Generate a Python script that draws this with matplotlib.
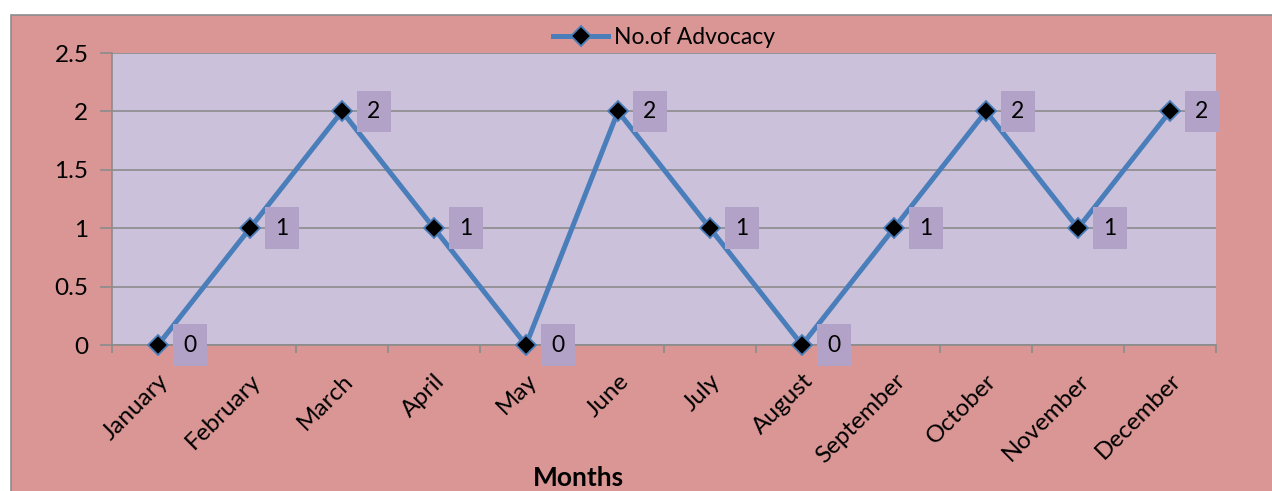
import matplotlib
matplotlib.use("Agg")
import matplotlib.pyplot as plt
from matplotlib.patches import Rectangle
from matplotlib.transforms import ScaledTranslation

# data
months = ["January", "February", "March", "April", "May", "June",
          "July", "August", "September", "October", "November", "December"]
advocacy = [0, 1, 2, 1, 0, 2, 1, 0, 1, 2, 1, 2]
y_ticks = [0, 0.5, 1, 1.5, 2, 2.5]
y_tick_labels = ["0", "0.5", "1", "1.5", "2", "2.5"]

PINK = "#D99694"
PLOT_BG = "#CCC1DA"
LABEL_BG = "#B3A2C7"
LINE = "#4A7EBB"
GRID = "#8C8C8C"
FS = 17.5

plt.rcParams["font.family"] = ["Lato", "DejaVu Sans"]

W, H = 1272, 491
fig = plt.figure(figsize=(W / 100, H / 100), dpi=100)
fig.patch.set_facecolor("white")

# chart area background
fig.patches.append(Rectangle((11 / W, -0.05), 1.1, 1 - 15 / H + 0.05,
                             transform=fig.transFigure, facecolor=PINK,
                             edgecolor=GRID, linewidth=1.2, zorder=-10))

ax = fig.add_axes([112 / W, 1 - 345 / H, 1104 / W, 292 / H])
ax.set_facecolor(PLOT_BG)

x = list(range(len(months)))
ax.plot(x, advocacy, color=LINE, linewidth=3.6, marker="D", markersize=10,
        markerfacecolor="black", markeredgecolor=LINE, markeredgewidth=1.3,
        label="No.of Advocacy", zorder=3, clip_on=False)

for i, v in zip(x, advocacy):
    ax.annotate(str(v), (i, v), xytext=(23, 0), textcoords="offset points",
                ha="center", va="center", fontsize=16.5,
                bbox=dict(boxstyle="square,pad=0.45", facecolor=LABEL_BG,
                          edgecolor="none"), zorder=4)

ax.set_xlim(-0.5, len(months) - 0.5)
ax.set_ylim(0, 2.5)
ax.set_xticks(x)
ax.set_xticklabels(months, rotation=45, ha="right", rotation_mode="anchor",
                   fontsize=FS)
shift = ScaledTranslation(-3 / 100, 0, fig.dpi_scale_trans)
for lbl in ax.get_xticklabels():
    lbl.set_transform(lbl.get_transform() + shift)
ax.set_xticks([i - 0.5 for i in range(len(months) + 1)], minor=True)
ax.tick_params(axis="x", which="major", length=0, pad=18)
ax.tick_params(axis="x", which="minor", length=6, color=GRID, width=1.2)
ax.set_yticks(y_ticks)
ax.set_yticklabels(y_tick_labels, fontsize=FS)
ax.tick_params(axis="y", length=9, color=GRID, width=1.2, pad=8)

ax.grid(axis="y", color=GRID, linewidth=1.2)
ax.set_axisbelow(True)
for side in ["top", "right"]:
    ax.spines[side].set_visible(False)
for side in ["left", "bottom"]:
    ax.spines[side].set_color(GRID)
    ax.spines[side].set_linewidth(1.2)

ax.legend(loc="center", bbox_to_anchor=(0.5, 1 + 15 / 292), frameon=False,
          fontsize=16.5, handlelength=2.4, handletextpad=0.25)

fig.text(578 / W, 1 - 490 / H, "Months", ha="center", va="bottom",
         fontsize=19, fontweight="bold")

fig.savefig("out.png", dpi=100)
